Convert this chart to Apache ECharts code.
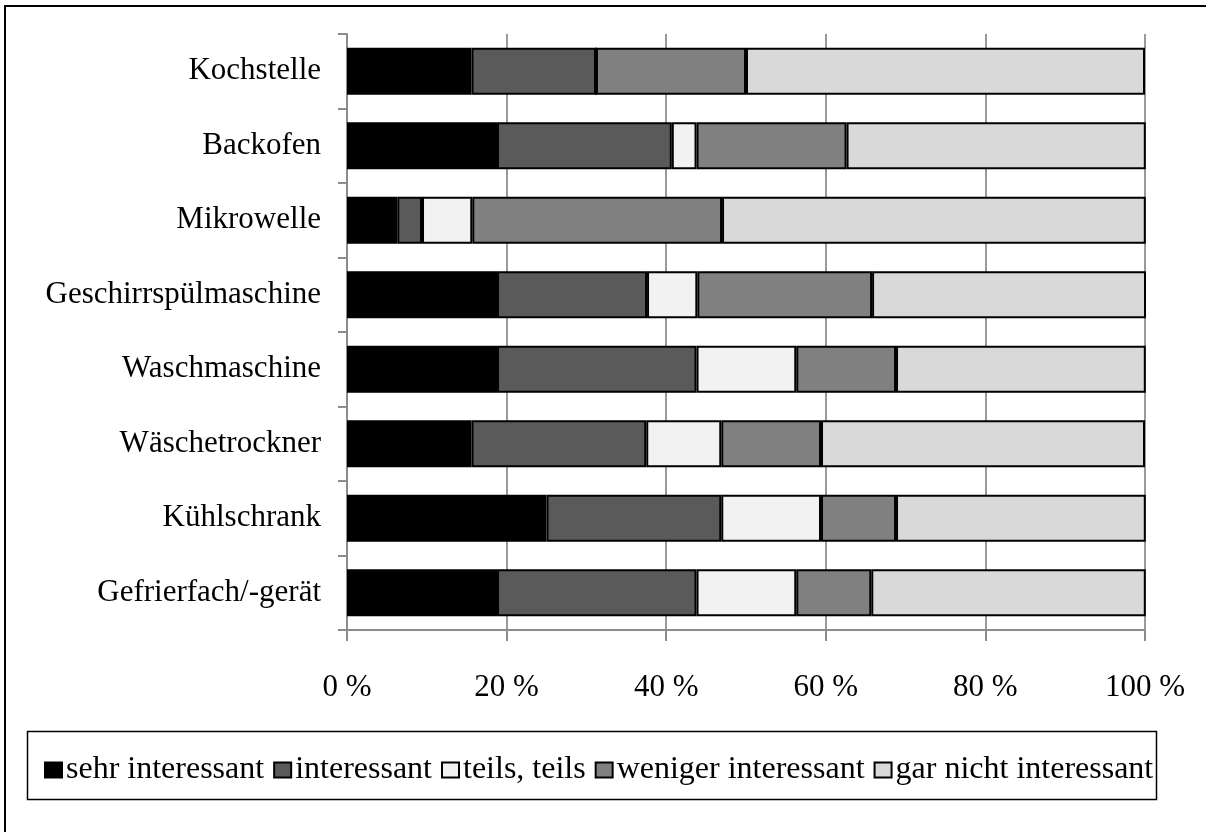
<!DOCTYPE html>
<html>
<head>
<meta charset="utf-8">
<script src="https://cdn.jsdelivr.net/npm/echarts@6/dist/echarts.min.js"></script>
<style>
html,body{margin:0;padding:0;background:#fff;}
#chart{width:1206px;height:832px;}
</style>
</head>
<body>
<div id="chart"></div>
<script>
const categories = ["Kochstelle","Backofen","Mikrowelle","Geschirrspülmaschine","Waschmaschine","Wäschetrockner","Kühlschrank","Gefrierfach/-gerät"];
const seriesNames = ["sehr interessant","interessant","teils, teils","weniger interessant","gar nicht interessant"];
const sehrInteressant   = [15.6, 18.8, 6.3, 18.8, 18.8, 15.6, 25.0, 18.8];
const interessant       = [15.6, 21.9, 3.1, 18.8, 25.0, 21.9, 21.9, 25.0];
const teilsTeils        = [0.0, 3.1, 6.3, 6.3, 12.5, 9.4, 12.5, 12.5];
const wenigerInteressant= [18.8, 18.8, 31.3, 21.9, 12.5, 12.5, 9.4, 9.4];
const garNicht          = [50.0, 37.5, 53.1, 34.4, 31.3, 40.6, 31.3, 34.4];
const xTicks = [0, 20, 40, 60, 80, 100];

const values = [sehrInteressant, interessant, teilsTeils, wenigerInteressant, garNicht];
const colors = ["#000000","#5a5a5a","#f2f2f2","#808080","#d9d9d9"];
const font = "'Liberation Serif','Times New Roman',serif";

const chart = echarts.init(document.getElementById('chart'), null, {renderer:'canvas'});
chart.setOption({
  animation:false,
  backgroundColor:'#fff',
  textStyle:{fontFamily:font},
  grid:{left:347, right:61, top:34, bottom:202, containLabel:false},
  xAxis:{
    type:'value', min:xTicks[0], max:xTicks[xTicks.length-1], interval:20,
    axisLine:{show:true, lineStyle:{color:'#8c8c8c', width:2}},
    axisTick:{show:true, length:11, lineStyle:{color:'#8c8c8c', width:2}},
    splitLine:{show:true, lineStyle:{color:'#9a9a9a', width:2}},
    axisLabel:{formatter:'{value} %', fontFamily:font, fontSize:31, color:'#000', margin:42}
  },
  yAxis:{
    type:'category', data:categories, inverse:true,
    axisLine:{show:true, lineStyle:{color:'#8c8c8c', width:2}},
    axisTick:{show:true, length:9, lineStyle:{color:'#8c8c8c', width:2}},
    axisLabel:{fontFamily:font, fontSize:31, color:'#000', margin:26}
  },
  legend:{
    data:seriesNames, left:39, top:749, itemGap:9, itemWidth:17, itemHeight:15,
    icon:'rect',
    textStyle:{fontFamily:font, fontSize:32, color:'#000', padding:[0,0,0,-1]}
  },
  graphic:[
    {type:'rect', shape:{x:5, y:6, width:1220, height:850}, style:{fill:'none', stroke:'#000', lineWidth:2}, silent:true},
    {type:'rect', shape:{x:27.5, y:731.5, width:1129, height:68}, style:{fill:'none', stroke:'#000', lineWidth:1.5}, silent:true}
  ],
  series: seriesNames.map((name,i)=>({
    name:name, type:'bar', stack:'total', data:values[i],
    barCategoryGap:'37%',
    itemStyle:{color:colors[i], borderColor:'#000', borderWidth:2},
    emphasis:{disabled:true}
  }))
});
</script>
</body>
</html>
